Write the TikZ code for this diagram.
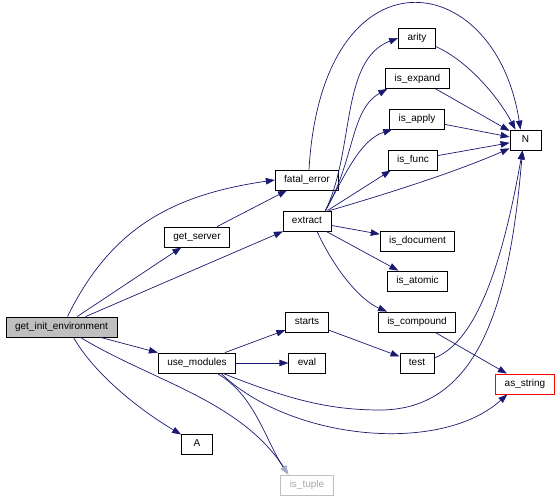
\documentclass[tikz,border=0pt]{standalone}
\usepackage{fontspec}
\setmainfont{Liberation Sans}
\usetikzlibrary{arrows.meta}
\definecolor{edgeblue}{HTML}{191970}
\definecolor{rootgray}{HTML}{BFBFBF}
\definecolor{fadegray}{HTML}{A8A8A8}
\definecolor{fadeblue}{HTML}{A8A8C8}
\begin{document}
\begin{tikzpicture}
[x=1pt,y=1pt,
 every node/.style={draw=black, line width=.8pt, fill=white, inner xsep=9pt, minimum width=31pt, minimum height=20pt, text height=7.5pt, text depth=2pt, font=\fontsize{10}{12}\selectfont},
 calls/.style={edgeblue, line width=.7pt, -{Triangle[length=9pt,width=6.5pt]}},
 faded/.style={edgeblue, line width=.7pt, -{Triangle[length=9pt,width=6.5pt,color=fadeblue]}}]
\useasboundingbox (0,0) rectangle (560,-500);
\node[fill=rootgray] (gie) at (61.5,-327) {get\_init\_environment};
\node (getserver) at (197,-237) {get\_server};
\node (usemodules) at (197,-363) {use\_modules};
\node (A) at (197,-444) {A};
\node (fatalerror) at (307,-180) {fatal\_error};
\node (extract) at (307,-221) {extract};
\node (starts) at (307,-322) {starts};
\node (eval) at (307,-363) {eval};
\node[draw=rootgray, text=fadegray] (istuple) at (307,-485) {is\_tuple};
\node (arity) at (417,-38) {arity};
\node (isexpand) at (417.5,-78.5) {is\_expand};
\node (isapply) at (417,-119) {is\_apply};
\node (isfunc) at (413,-160) {is\_func};
\node (isdocument) at (417.5,-241) {is\_document};
\node (isatomic) at (417.5,-281) {is\_atomic};
\node (iscompound) at (417,-322) {is\_compound};
\node (test) at (417,-363) {test};
\node (N) at (525.5,-140) {N};
\node[draw=red] (asstring) at (525,-384) {as\_string};
% calls from get_init_environment
\draw[calls] ([xshift=6pt]gie.north) .. controls (110,-230) and (170,-195) .. (fatalerror.west);
\draw[calls] (gie) to (getserver);
\draw[calls] (gie) to (extract);
\draw[calls] (gie) to (usemodules);
\draw[calls] ([xshift=12pt]gie.south) .. controls (95,-375) and (140,-410) .. (A);
\draw[faded] ([xshift=19pt]gie.south) .. controls (150,-380) and (240,-400) .. ([xshift=8pt]istuple.north west);
\draw[calls] (getserver) to (fatalerror);
\draw[calls] ([xshift=2pt]fatalerror.north) .. controls (322,55) and (495,35) .. ([xshift=-5pt]N.north);
% calls from extract
\draw[calls] ([xshift=-6pt]extract.north east) .. controls (355,-150) and (340,-60) .. (arity.west);
\draw[calls] ([xshift=-6pt]extract.north east) .. controls (355,-160) and (350,-110) .. ([xshift=2pt]isexpand.south west);
\draw[calls] ([xshift=-6pt]extract.north east) .. controls (345,-175) and (360,-140) .. ([xshift=3pt]isapply.south west);
\draw[calls] ([xshift=-4pt]extract.north east) to ([xshift=3pt]isfunc.south west);
\draw[calls] ([xshift=-2pt]extract.north east) .. controls (400,-190) and (460,-170) .. ([yshift=2pt]N.south west);
\draw[calls] (extract) to (isdocument);
\draw[calls] (extract) to (isatomic);
\draw[calls] ([xshift=10pt]extract.south) .. controls (335,-270) and (360,-300) .. ([xshift=-30pt]iscompound.north);
% calls into N
\draw[calls] (arity) .. controls (470,-62) and (500,-100) .. ([xshift=-10pt]N.north);
\draw[calls] (isexpand) to (N);
\draw[calls] (isapply) to (N);
\draw[calls] (isfunc) to (N);
% calls from use_modules
\draw[calls] (usemodules) to (starts);
\draw[calls] (usemodules) to (eval);
\draw[calls] ([xshift=26pt]usemodules.south) .. controls (290,-400) and (330,-410) .. (380,-410) .. controls (480,-410) and (510,-300) .. ([xshift=-3pt]N.south);
\draw[calls] ([xshift=24pt]usemodules.south) .. controls (290,-440) and (440,-455) .. ([xshift=12pt]asstring.south west);
\draw[faded] ([xshift=20pt]usemodules.south) .. controls (255,-395) and (265,-440) .. ([xshift=8pt]istuple.north west);
\draw[calls] (starts) to (test);
\draw[calls] ([yshift=5pt]test.east) .. controls (480,-340) and (505,-250) .. ([xshift=-3pt]N.south);
\draw[calls] (iscompound) to (asstring);
\end{tikzpicture}
\end{document}
